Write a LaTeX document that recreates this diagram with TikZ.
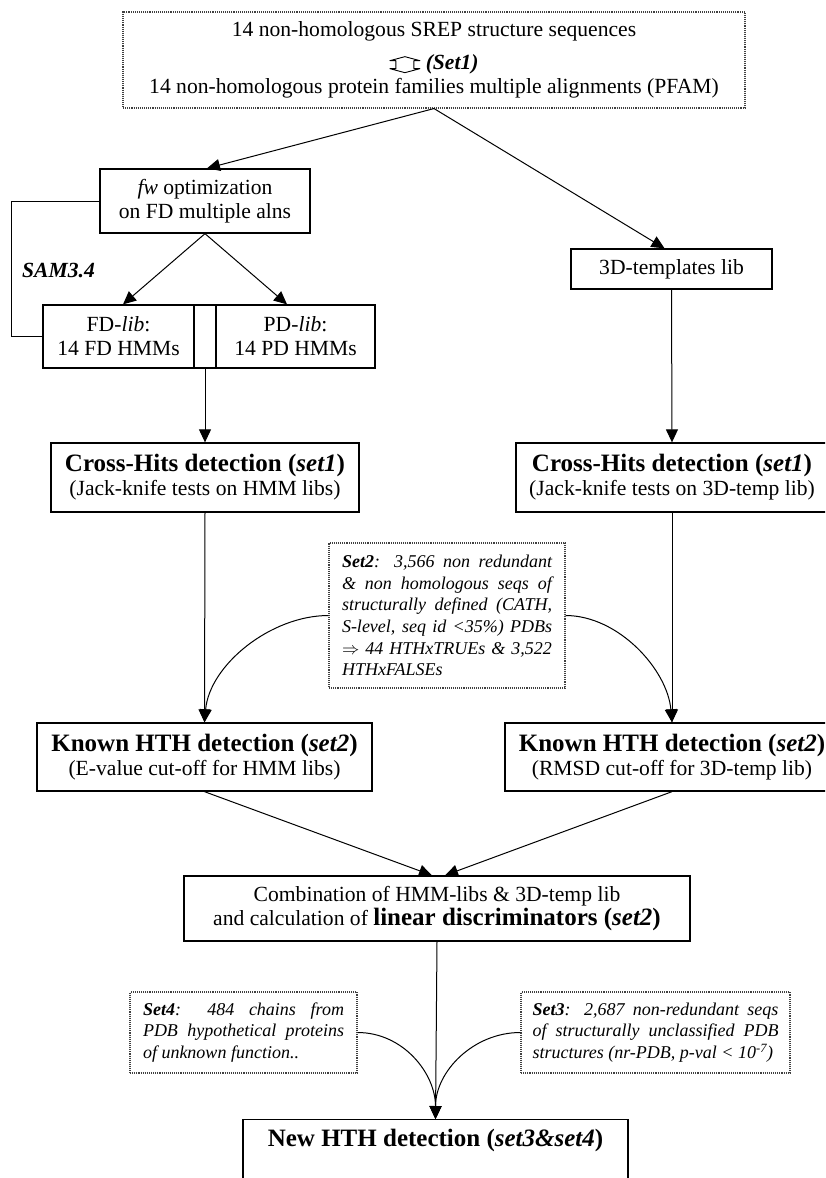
\documentclass[tikz,border=0pt]{standalone}
\usepackage{fontspec}
\setmainfont{Liberation Serif}
\usetikzlibrary{arrows.meta}
\newcommand{\fReg}{\fontsize{21.6}{24}\selectfont}
\newcommand{\fTtl}{\fontsize{25}{27}\selectfont\bfseries}
\newcommand{\fSml}{\fontsize{18}{21.6}\selectfont\itshape}
\newcommand{\setsym}{\tikz[x=1pt,y=1pt,baseline=-5pt,line width=0.9pt]\draw[line join=round] (-15,4)--(0,8)--(15,4)--(9,4)--(9,-4)--(15,-4)--(0,-8)--(-15,-4)--(-9,-4)--(-9,4)--cycle;}
\begin{document}
\begin{tikzpicture}[x=1pt,y=-1pt,
  box/.style={draw, line width=1.3pt, align=center, inner sep=0pt, font=\fReg},
  dbox/.style={draw=black!75, densely dotted, line width=1.1pt, inner sep=0pt},
  conn/.style={line width=1pt},
  arr/.style={conn, -{Triangle[length=13pt,width=12pt]}},
]
\useasboundingbox (0,0) rectangle (825,1178);
\clip (0,0) rectangle (825,1178);
\fill[white] (0,0) rectangle (825,1178);

% top box
\node[dbox, minimum width=622, minimum height=96, align=center, font=\fReg] (top) at (434,60)
  {14 non-homologous SREP structure sequences\\[9pt]\setsym\ \textbf{\textit{(Set1)}}\\14 non-homologous protein families multiple alignments (PFAM)};

% left column
\node[box, minimum width=210, minimum height=64] (fw) at (205,201) {\textit{fw} optimization\\on FD multiple alns};
\node[box, minimum width=151, minimum height=63] (fd) at (118.5,336.5) {FD-\textit{lib}:\\14 FD HMMs};
\node[box, minimum width=22, minimum height=63] (mid) at (205,336.5) {};
\node[box, minimum width=159, minimum height=63] (pd) at (295.5,336.5) {PD-\textit{lib}:\\14 PD HMMs};
\node[font=\fReg\bfseries\itshape, anchor=west, inner sep=0pt] (sam) at (22,270) {SAM3.4};

\node[box, minimum width=308, minimum height=69] (crossL) at (205,477.5)
  {{\fTtl Cross-Hits detection (\textit{set1})}\\(Jack-knife tests on HMM libs)};
\node[box, minimum width=335, minimum height=68] (knownL) at (204.5,757)
  {{\fTtl Known HTH detection (\textit{set2})}\\(E-value cut-off for HMM libs)};

% right column
\node[box, minimum width=201, minimum height=40] (tdl) at (671.5,269) {3D-templates lib};
\node[box, minimum width=312, minimum height=69] (crossR) at (672,477.5)
  {{\fTtl Cross-Hits detection (\textit{set1})}\\(Jack-knife tests on 3D-temp lib)};
\node[box, minimum width=334, minimum height=68] (knownR) at (672,757)
  {{\fTtl Known HTH detection (\textit{set2})}\\(RMSD cut-off for 3D-temp lib)};

% set2
\node[dbox, minimum width=236, minimum height=145, text width=210, align=justify, font=\fSml] (set2) at (447,615.5)
  {\textbf{Set2}: 3,566 non redundant\linebreak \& non homologous seqs of\linebreak structurally defined (CATH,\linebreak S-level, seq id <35\%) PDBs\linebreak $\Rightarrow$ 44 HTHxTRUEs \& 3,522\linebreak HTHxFALSEs};

% combination
\node[box, minimum width=506, minimum height=65] (comb) at (437,908.5)
  {Combination of HMM-libs \& 3D-temp lib\\and calculation of {\fTtl linear discriminators (\textit{set2})}};

% set4 / set3
\node[dbox, minimum width=227, minimum height=81, text width=201, align=justify, font=\fSml] (set4) at (243.5,1032.5)
  {\textbf{Set4}: 484 chains from\linebreak PDB hypothetical proteins\linebreak of unknown function..};
\node[dbox, minimum width=269, minimum height=81, text width=246, align=justify, font=\fSml] (set3) at (655.5,1032.5)
  {\textbf{Set3}: 2,687 non-redundant seqs\linebreak of structurally unclassified PDB\linebreak structures (nr-PDB, p-val < 10\textsuperscript{-7})};

% new HTH
\node[box, anchor=north, minimum width=385, inner ysep=0pt, text height=27pt, text depth=50pt] (newhth) at (435.5,1119)
  {\fTtl New HTH detection (\textit{set3\&set4})};

% connectors
\draw[arr] (top.south) -- ([xshift=2pt]fw.north);
\draw[arr] (top.south) -- ([xshift=-7pt]tdl.north);
\draw[arr] (fw.south) -- ([xshift=4.5pt]fd.north);
\draw[arr] (fw.south) -- ([xshift=-8.5pt]pd.north);
\draw[conn] (fw.west) -- ++(-88,0) |- (fd.west);
\draw[arr] (mid.south) -- (crossL.north);
\draw[arr] (tdl.south) -- (crossR.north);
\draw[arr] (crossL.south) -- (knownL.north);
\draw[arr] (crossR.south) -- (knownR.north);
\draw[arr] (set2.west) to[out=180,in=85,looseness=0.9] (knownL.north);
\draw[arr] (set2.east) to[out=0,in=95,looseness=0.9] (knownR.north);
\draw[arr] (knownL.south) -- ([xshift=-5pt]comb.north);
\draw[arr] (knownR.south) -- ([xshift=8pt]comb.north);
\draw[arr] (comb.south) -- (newhth.north);
\draw[arr] (set4.east) to[out=0,in=90] (newhth.north);
\draw[arr] (set3.west) to[out=180,in=90] (newhth.north);
\end{tikzpicture}
\end{document}
